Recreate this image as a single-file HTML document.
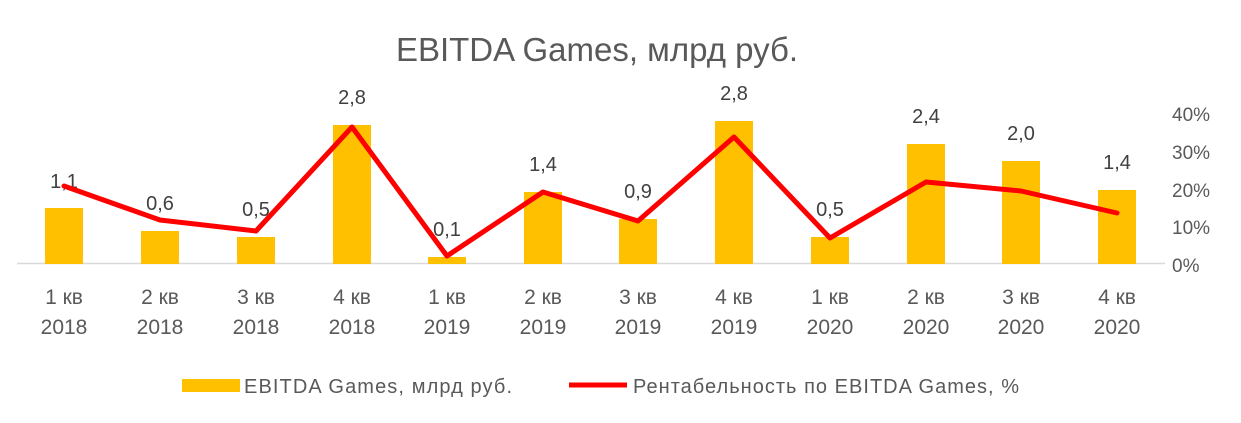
<!DOCTYPE html>
<html><head><meta charset="utf-8"><style>
html,body{margin:0;padding:0;background:#fff;}
svg{display:block;font-family:"Liberation Sans","DejaVu Sans",sans-serif;}
</style></head><body>
<svg width="1241" height="423" viewBox="0 0 1241 423" xmlns="http://www.w3.org/2000/svg">
<rect width="1241" height="423" fill="#fff"/>
<text x="597" y="61" font-size="33" fill="#595959" text-anchor="middle">EBITDA Games, млрд руб.</text>
<line x1="17" y1="263.5" x2="1165" y2="263.5" stroke="#d9d9d9" stroke-width="1.5"/>
<g fill="#FFC000">
<rect x="45" y="208" width="38" height="56"/>
<rect x="141" y="231" width="38" height="33"/>
<rect x="237" y="237" width="38" height="27"/>
<rect x="333" y="125" width="38" height="139"/>
<rect x="428" y="257" width="38" height="7"/>
<rect x="524" y="192" width="38" height="72"/>
<rect x="619" y="219" width="38" height="45"/>
<rect x="715" y="121" width="38" height="143"/>
<rect x="811" y="237" width="38" height="27"/>
<rect x="907" y="144" width="38" height="120"/>
<rect x="1002" y="161" width="38" height="103"/>
<rect x="1098" y="190" width="38" height="74"/>
</g>
<g font-size="20" fill="#404040" text-anchor="middle">
<text x="64" y="188">1,1</text>
<text x="160" y="210">0,6</text>
<text x="256" y="216">0,5</text>
<text x="352" y="104">2,8</text>
<text x="447" y="236">0,1</text>
<text x="543" y="171">1,4</text>
<text x="638" y="198">0,9</text>
<text x="734" y="100">2,8</text>
<text x="830" y="216">0,5</text>
<text x="926" y="123">2,4</text>
<text x="1021" y="140">2,0</text>
<text x="1117" y="169">1,4</text>
</g>
<polyline fill="none" stroke="#FF0000" stroke-width="5" stroke-linejoin="round" stroke-linecap="round"
points="64,186 160,220 256,231 352,127 447,256 543,192 638,221 734,137 830,238 926,182 1021,191 1117,213"/>
<g font-size="19" fill="#595959" text-anchor="start">
<text x="1172" y="121">40%</text>
<text x="1172" y="159">30%</text>
<text x="1172" y="197">20%</text>
<text x="1172" y="234">10%</text>
<text x="1172" y="272">0%</text>
</g>
<g font-size="21" fill="#595959" text-anchor="middle">
<text x="64" y="304">1 кв</text><text x="64" y="334">2018</text>
<text x="160" y="304">2 кв</text><text x="160" y="334">2018</text>
<text x="256" y="304">3 кв</text><text x="256" y="334">2018</text>
<text x="352" y="304">4 кв</text><text x="352" y="334">2018</text>
<text x="447" y="304">1 кв</text><text x="447" y="334">2019</text>
<text x="543" y="304">2 кв</text><text x="543" y="334">2019</text>
<text x="638" y="304">3 кв</text><text x="638" y="334">2019</text>
<text x="734" y="304">4 кв</text><text x="734" y="334">2019</text>
<text x="830" y="304">1 кв</text><text x="830" y="334">2020</text>
<text x="926" y="304">2 кв</text><text x="926" y="334">2020</text>
<text x="1021" y="304">3 кв</text><text x="1021" y="334">2020</text>
<text x="1117" y="304">4 кв</text><text x="1117" y="334">2020</text>
</g>
<rect x="182" y="379" width="58" height="13" fill="#FFC000"/>
<text x="244" y="393" font-size="20" textLength="268" fill="#595959">EBITDA Games, млрд руб.</text>
<line x1="569" y1="385" x2="627" y2="385" stroke="#FF0000" stroke-width="5"/>
<text x="633" y="393" font-size="20" textLength="386" fill="#595959">Рентабельность по EBITDA Games, %</text>
</svg>
</body></html>
